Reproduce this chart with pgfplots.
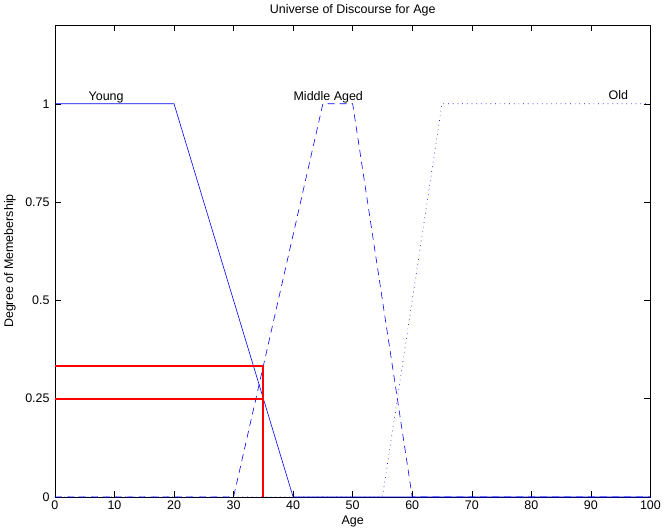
\documentclass[border=0pt]{standalone}
\usepackage{fontspec}
\setmainfont{Liberation Sans}
\usepackage{pgfplots}
\pgfplotsset{compat=1.18}
\begin{document}
\fontsize{12.5}{14}\selectfont
\begin{tikzpicture}
\begin{axis}[
    scale only axis,
    width=597pt, height=473pt,
    xmin=0, xmax=100, ymin=0, ymax=1.2,
    xtick={0,10,...,100},
    ytick={0,0.25,0.5,0.75,1},
    yticklabels={0,0.25,0.5,0.75,1},
    tick align=inside,
    major tick length=6pt,
    tick style={black, thin},
    axis line style={black, thin},
    /pgf/number format/assume math mode=true,
    tick label style={font=\fontsize{12.5}{14}\selectfont},
    xticklabel style={yshift=1pt},
    yticklabel style={xshift=-1pt},
    xlabel={Age},
    ylabel={Degree of Memebership},
    title={Universe of Discourse for Age},
    title style={font=\fontsize{12.5}{14}\selectfont, yshift=-1pt},
    label style={font=\fontsize{12.5}{14}\selectfont},
    xlabel style={yshift=2pt},
    ylabel style={yshift=1pt},
    clip=false,
]
% Young
\addplot[blue, line width=0.6pt] coordinates {(0,1) (20,1) (40,0) (100,0)};
% Middle Aged
\addplot[blue, dash pattern=on 7pt off 5pt, line width=0.6pt] coordinates {(0,0) (30,0) (45,1) (50,1) (60,0) (100,0)};
% Old
\addplot[blue, dash pattern=on 0.7pt off 4pt, line width=0.6pt] coordinates {(0,0) (55,0) (65,1) (100,1)};
% red cuts
\addplot[red, line width=1.8pt] coordinates {(0,0.3333) (35,0.3333) (35,0)};
\addplot[red, line width=1.8pt] coordinates {(0,0.25) (35,0.25)};
\node[anchor=south] at (axis cs:8.6,0.99) {Young};
\node[anchor=south] at (axis cs:45.9,0.99) {Middle Aged};
\node[anchor=south] at (axis cs:94.6,1.0) {Old};
\end{axis}
\end{tikzpicture}
\end{document}
